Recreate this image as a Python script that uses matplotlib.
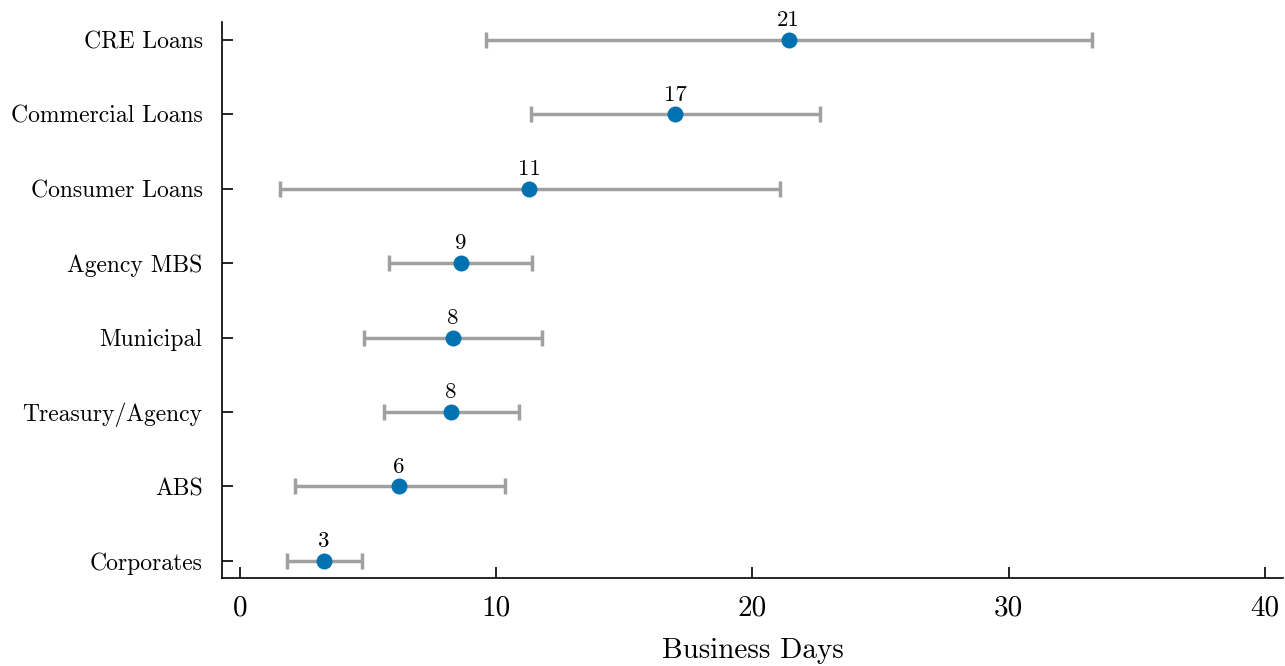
import matplotlib
matplotlib.use("Agg")
import matplotlib.pyplot as plt
import numpy as np

plt.rcParams['font.family'] = ['cmr10', 'DejaVu Serif']
plt.rcParams['axes.formatter.use_mathtext'] = True
plt.rcParams['mathtext.fontset'] = 'cm'

categories = ["Corporates", "ABS", "Treasury/Agency", "Municipal",
              "Agency MBS", "Consumer Loans", "Commercial Loans", "CRE Loans"]
means = [3.28, 6.21, 8.24, 8.32, 8.63, 11.29, 16.99, 21.41]
lows = [1.84, 2.15, 5.63, 4.84, 5.82, 1.56, 11.37, 9.61]
highs = [4.77, 10.35, 10.90, 11.80, 11.41, 21.09, 22.62, 33.24]
xticks = [0, 10, 20, 30, 40]

fig = plt.figure(figsize=(12.85, 6.66), dpi=100)
ax = fig.add_axes([222/1285, 1 - 578/666, (1283 - 222)/1285, (578 - 22)/666])

y = np.arange(len(categories))
means_a = np.array(means)
err = np.vstack([means_a - np.array(lows), np.array(highs) - means_a])
ax.errorbar(means, y, xerr=err, fmt='none', ecolor='#a0a0a0', elinewidth=2.5,
            capsize=5.8, capthick=2.5, zorder=2)
ax.plot(means, y, 'o', color='#0072b2', markersize=11.5, zorder=3, markeredgewidth=0)
for m, yy in zip(means, y):
    ax.annotate(f"{round(m):d}", (m, yy), xytext=(0, 7), textcoords='offset points',
                ha='center', va='bottom', fontsize=16.5)

ax.set_yticks(y)
ax.set_yticklabels(categories, fontsize=17)
ax.set_xticks(xticks)
ax.set_xticklabels([str(t) for t in xticks], fontsize=21)
ax.set_xlim(-0.7, 40.7)
ax.set_ylim(-0.23, 7.24)
ax.set_xlabel("Business Days", fontsize=21, labelpad=12)
ax.spines['top'].set_visible(False)
ax.spines['right'].set_visible(False)
ax.spines['left'].set_linewidth(1.2)
ax.spines['bottom'].set_linewidth(1.2)
ax.tick_params(axis='both', direction='in', length=8, width=1.2)
ax.tick_params(axis='x', pad=12)
ax.tick_params(axis='y', pad=14)

fig.savefig("out.png", dpi=100)
